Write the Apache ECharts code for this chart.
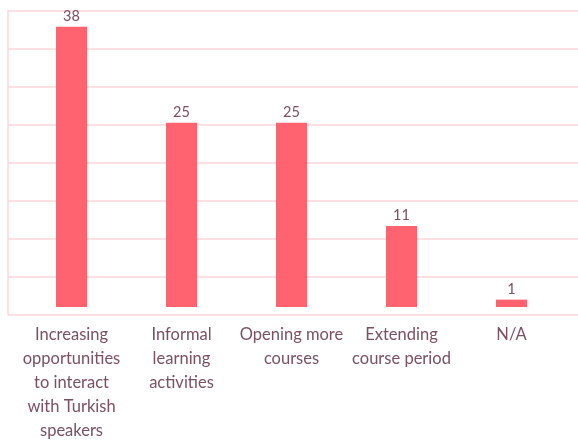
<!DOCTYPE html>
<html>
<head>
<meta charset="utf-8">
<script src="https://cdn.jsdelivr.net/npm/echarts@6/dist/echarts.min.js"></script>
<style>
  html, body { margin: 0; padding: 0; background: #fff; }
  #chart { width: 578px; height: 443px; }
</style>
</head>
<body>
<div id="chart"></div>
<script>
var categories = [
    'Increasing\nopportunities\nto interact\nwith Turkish\nspeakers',
    'Informal\nlearning\nactivities',
    'Opening more\ncourses',
    'Extending\ncourse period',
    'N/A'
];
var values = [38, 25, 25, 11, 1];

var myChart = echarts.init(document.getElementById('chart'));
var textColor = '#7a5062';
var lineColor = '#fdd6db';

var option = {
    animation: false,
    grid: [
        // frame: left line and horizontal lines
        { left: 8, right: -10, top: 10.5, bottom: 128.5 },
        // bars
        { left: 16.5, right: 11.5, top: 12, bottom: 127 }
    ],
    xAxis: [{
        gridIndex: 0,
        type: 'value',
        show: false
    }, {
        gridIndex: 1,
        type: 'category',
        data: categories,
        axisLine: { show: false },
        axisTick: { show: false },
        axisLabel: {
            margin: 16,
            color: textColor,
            fontFamily: 'Lato',
            fontSize: 16.5,
            lineHeight: 24,
            interval: 0
        }
    }],
    yAxis: [{
        gridIndex: 0,
        type: 'value',
        min: 0,
        max: 40,
        interval: 5,
        axisLabel: { show: false },
        axisTick: { show: false },
        axisLine: { show: true, lineStyle: { color: lineColor, width: 1.5 } },
        splitLine: { lineStyle: { color: lineColor, width: 1.5 } }
    }, {
        gridIndex: 1,
        type: 'value',
        min: 0,
        max: 40,
        show: false
    }],
    series: [{
        type: 'bar',
        xAxisIndex: 1,
        yAxisIndex: 1,
        data: values,
        barWidth: 31,
        itemStyle: { color: '#ff6370' },
        label: {
            show: true,
            position: 'top',
            distance: 3,
            color: textColor,
            fontFamily: 'Lato',
            fontSize: 14.5
        }
    }]
};
myChart.setOption(option);
</script>
</body>
</html>
